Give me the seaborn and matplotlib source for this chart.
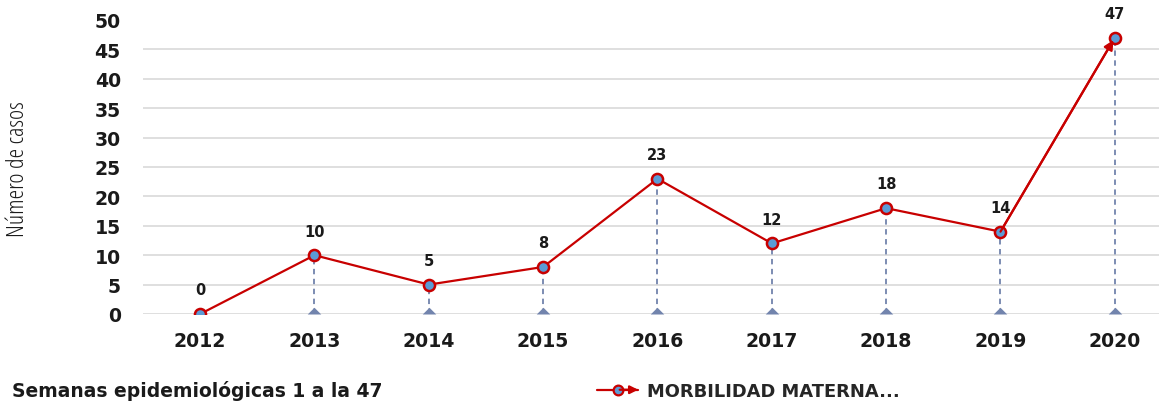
import matplotlib
matplotlib.use("Agg")
import matplotlib.pyplot as plt
import seaborn as sns
import pandas as pd
from matplotlib.lines import Line2D
from matplotlib.legend_handler import HandlerLine2D
from matplotlib.patches import FancyArrowPatch

years = ["2012", "2013", "2014", "2015", "2016", "2017", "2018", "2019", "2020"]
casos = [0, 10, 5, 8, 23, 12, 18, 14, 47]
serie = "MORBILIDAD MATERNA..."
y_ticks = [0, 5, 10, 15, 20, 25, 30, 35, 40, 45, 50]

sns.set_style("white")
plt.rcParams["font.family"] = ["DejaVu Sans"]

df = pd.DataFrame({"year": years, "casos": casos, "serie": serie})
df["pos"] = range(len(years))

fig = plt.figure(figsize=(11.59, 4.02), dpi=100)
ax = fig.add_axes([143 / 1159, 1 - 315 / 402, 1 - 143 / 1159, (315 - 21) / 402])

RED = "#c80000"
BLUE = "#5b9bd5"
DROP = "#7284ad"
TXT = "#1a1a1a"

# drop lines
ax.vlines(df["pos"], 0, df["casos"], colors=DROP, linestyles=(0, (3, 2.5)), linewidth=1.3, zorder=2)
tri = [(-1, 0), (1, 0), (0, 1), (-1, 0)]
mask = df["casos"] > 0
ax.scatter(df["pos"][mask], [0] * int(mask.sum()), marker=tri, s=95,
           color=DROP, zorder=3, clip_on=False, linewidths=0)

sns.lineplot(data=df, x="pos", y="casos", hue="serie", palette=[RED], marker="o",
             markersize=8, markerfacecolor=BLUE, markeredgecolor=RED, markeredgewidth=1.8,
             linewidth=1.6, ax=ax, zorder=4, legend=False)

# arrow on last segment
ax.annotate("", xy=(df["pos"].iloc[-1], df["casos"].iloc[-1]),
            xytext=(df["pos"].iloc[-2], df["casos"].iloc[-2]),
            arrowprops=dict(arrowstyle="-|>", color=RED, lw=1.6, mutation_scale=14,
                            shrinkA=0, shrinkB=2), zorder=5)

for p, v in zip(df["pos"], df["casos"]):
    ax.annotate(str(v), (p, v), xytext=(0, 12), textcoords="offset points",
                ha="center", va="bottom", fontsize=10.5, fontweight="bold", color=TXT)

ax.set_xlim(-0.5, 8.5 - 13 / 114.4)
ax.set_ylim(0, 50)
ax.set_yticks(y_ticks)
ax.set_xticks(df["pos"])
ax.set_xticklabels(years)
ax.tick_params(axis="both", length=0, labelsize=13.6, colors=TXT)
for lab in ax.get_xticklabels() + ax.get_yticklabels():
    lab.set_fontweight("bold")
ax.tick_params(axis="x", pad=12)
ax.tick_params(axis="y", pad=16)
ax.yaxis.grid(True, color="#d9d9d9", linewidth=1.2)
ax.set_axisbelow(True)
gl = ax.yaxis.get_gridlines()
gl[-1].set_visible(False)
for s in ax.spines.values():
    s.set_visible(False)
ax.set_xlabel("")
ax.set_ylabel("")

fig.text(18 / 1159, 1 - 169 / 402, "Número de casos", rotation=90, ha="center", va="center",
         fontsize=17.5, color=TXT, family=["Open Sans", "DejaVu Sans"], fontstretch="condensed",
         fontweight=500)
fig.text(12 / 1159, 1 - 397 / 402, "Semanas epidemiológicas 1 a la 47", ha="left", va="baseline",
         fontsize=13.5, fontweight="bold", color=TXT)


class HandlerArrowLine(HandlerLine2D):
    def create_artists(self, legend, orig_handle, xdescent, ydescent, width, height, fontsize, trans):
        artists = super().create_artists(legend, orig_handle, xdescent, ydescent, width, height,
                                         fontsize, trans)
        y = (height - ydescent) / 2
        arr = FancyArrowPatch((width * 0.55 - xdescent, y), (width - xdescent, y),
                              arrowstyle="-|>", mutation_scale=12, color=RED, lw=1.6,
                              transform=trans, shrinkA=0, shrinkB=0)
        return [artists[0], arr] + list(artists[1:])


h = Line2D([], [], color=RED, marker="o", markersize=7, markerfacecolor=BLUE,
           markeredgecolor=RED, markeredgewidth=1.6, linewidth=1.6)
fig.legend([h], [serie], loc="center left", bbox_to_anchor=(597 / 1159, 1 - 392 / 402),
           frameon=False, prop={"weight": "bold", "size": 12.9}, handlelength=2.3,
           handletextpad=0.5, borderaxespad=0, borderpad=0,
           handler_map={Line2D: HandlerArrowLine()})

fig.savefig("out.png", dpi=100)
